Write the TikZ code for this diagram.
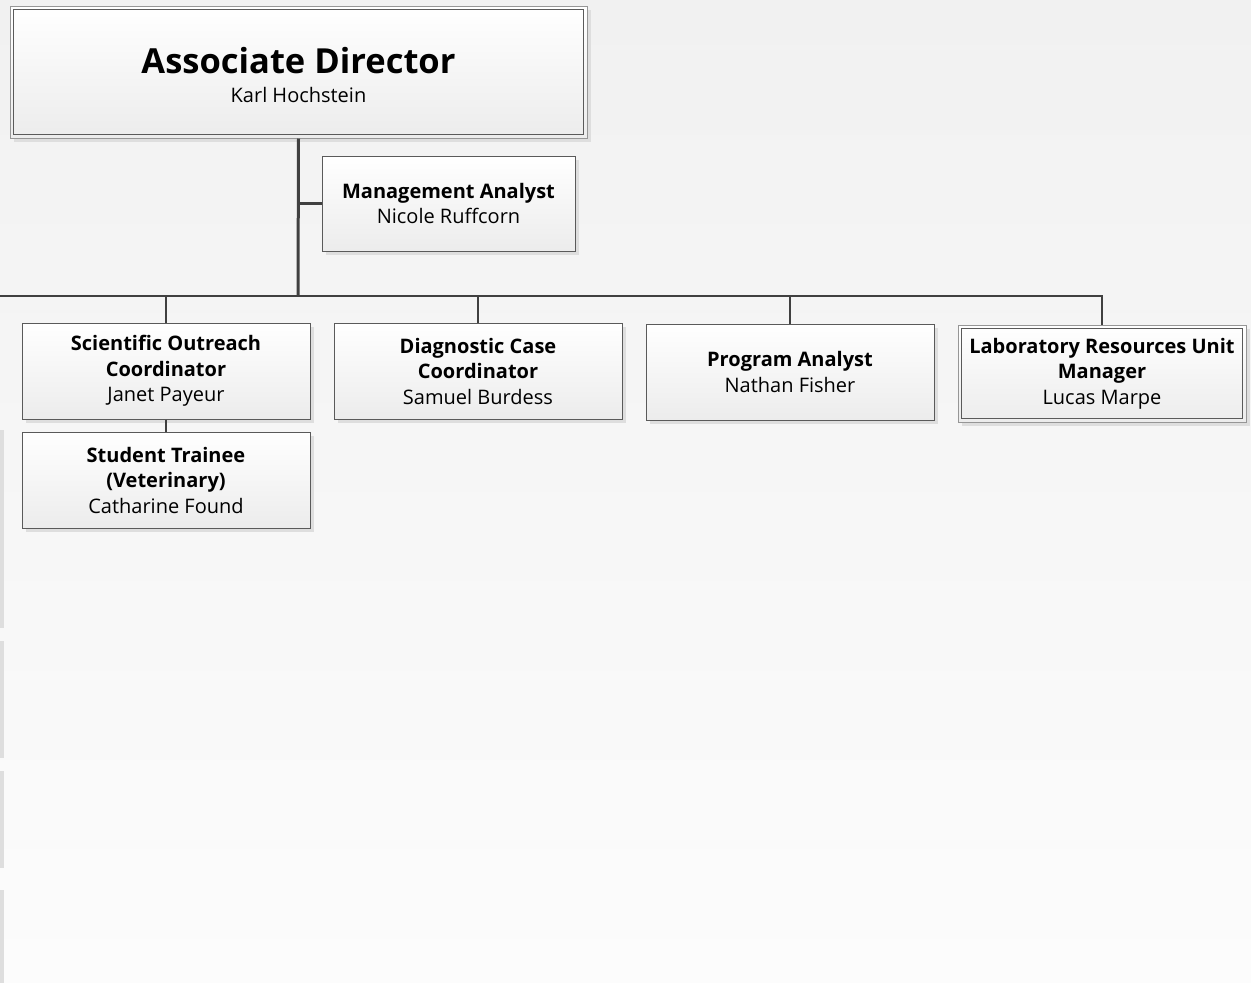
\documentclass[tikz,border=0pt]{standalone}
\usepackage{fontspec}
\setmainfont{Open Sans}
\usetikzlibrary{positioning,shadows}
\definecolor{linegray}{RGB}{64,64,64}
\definecolor{framegray}{RGB}{90,90,90}
\definecolor{outergray}{RGB}{150,150,150}
\definecolor{shadegray}{RGB}{222,222,222}
\definecolor{bgtop}{RGB}{241,241,241}
\definecolor{bgbot}{RGB}{252,252,252}
\definecolor{boxbot}{RGB}{236,236,236}

\begin{document}
\begin{tikzpicture}
  [x=1pt,y=1pt,
   link/.style={draw=linegray,line width=2.6pt},
   trunk/.style={link,line width=3pt},
   drop/.style={link,line width=2pt},
   posN/.style={draw=framegray,line width=1pt,rectangle,align=center,
     top color=white,bottom color=boxbot,inner sep=0pt,
     minimum width=288pt,minimum height=96pt,
     font=\fontsize{20}{25.5}\selectfont,
     drop shadow={shadow xshift=4pt,shadow yshift=-4pt,fill=shadegray,opacity=1}},
   headN/.style={posN,draw=outergray},
  ]

 % background
 \shade[top color=bgtop,bottom color=bgbot] (0,0) rectangle (1251,-983);
 \useasboundingbox (0,0) rectangle (1251,-983);
 \foreach \ya/\yb in {430/628,641/758,771/868,890/983}
   \fill[shadegray] (0,-\ya) rectangle (4,-\yb);

 \node[headN,minimum width=577pt,minimum height=132pt,
   font=\fontsize{20}{29}\selectfont] (ad) at (298.5,-72)
   {\rule{0pt}{32pt}{\fontsize{34.5}{44}\selectfont\bfseries Associate Director}\\Karl Hochstein};
 \node[posN,minimum width=253pt,minimum height=95pt] (ma) at (448.5,-203.5)
   {\textbf{Management Analyst}\\Nicole Ruffcorn};

 \node[posN] (soc) at (166,-371)
   {\textbf{Scientific Outreach}\\\textbf{Coordinator}\\Janet Payeur};
 \node[posN] (st) [below=12pt of soc]
   {\textbf{Student Trainee}\\\textbf{(Veterinary)}\\Catharine Found};
 \node[posN] (dcc) at (478,-371)
   {\textbf{Diagnostic Case}\\\textbf{Coordinator}\\Samuel Burdess};
 \node[posN] (pa) at (790,-372)
   {\textbf{Program Analyst}\\Nathan Fisher};
 \node[headN,minimum height=97pt] (lru) at (1102,-373.5)
   {\textbf{Laboratory Resources Unit}\\\textbf{Manager}\\Lucas Marpe};

 % inner frames
 \foreach \n in {ad,lru}
   \draw[framegray,line width=1pt] ([shift={(4pt,-4pt)}]\n.north west)
     rectangle ([shift={(-4pt,4pt)}]\n.south east);

 \coordinate (bus) at (298,-296);
 \coordinate (busL) at (0,-296);
 \draw[trunk] (ad.south) -- (bus);
 \draw[link] (ad.south |- ma.west) -- (ma.west);
 \draw[link] (busL) -- (bus -| lru.north) -- (lru.north);
 \foreach \n in {soc,dcc,pa}
   \draw[drop] (bus -| \n.north) -- (\n.north);
 \draw[drop] (soc) -- (st);

\end{tikzpicture}
\end{document}
